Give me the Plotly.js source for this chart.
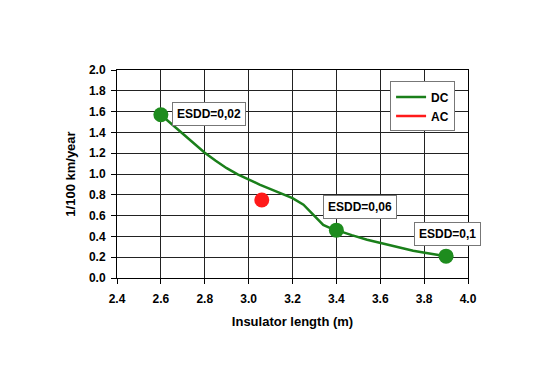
<!DOCTYPE html>
<html><head><meta charset="utf-8">
<script src="https://cdn.plot.ly/plotly-3.0.1.min.js"></script>
<style>html,body{margin:0;padding:0;background:#fff}#chart{width:538px;height:380px}</style>
</head><body><div id="chart"></div>
<script>
// DC curve (insulator length in m, flashovers per 100 km/year)
const dcX = [2.6, 2.65, 2.7, 2.75, 2.8, 2.85, 2.9, 2.95, 3.0, 3.05, 3.1, 3.15, 3.2, 3.25, 3.295, 3.34, 3.37, 3.4, 3.47, 3.54, 3.62, 3.69, 3.75, 3.81, 3.9];
const dcY = [1.57, 1.478, 1.39, 1.296, 1.205, 1.128, 1.056, 0.997, 0.945, 0.898, 0.854, 0.811, 0.768, 0.705, 0.607, 0.51, 0.482, 0.46, 0.412, 0.368, 0.325, 0.288, 0.262, 0.24, 0.21];
// DC marked points with ESDD labels
const dcMarkX = [2.6, 3.4, 3.9];
const dcMarkY = [1.57, 0.46, 0.21];
const esddLabels = ["ESDD=0,02", "ESDD=0,06", "ESDD=0,1"];
const labelX = [2.82, 3.506, 3.907];
const labelY = [1.58, 0.68, 0.423];
// AC point
const acX = [3.06];
const acY = [0.75];
const xTicks = [2.4, 2.6, 2.8, 3.0, 3.2, 3.4, 3.6, 3.8, 4.0];
const yTicks = [0.0, 0.2, 0.4, 0.6, 0.8, 1.0, 1.2, 1.4, 1.6, 1.8, 2.0];

const green = '#1a7f1a', red = '#ff1a1a';
const traces = [
  {x: dcX, y: dcY, mode: 'lines', name: 'DC', line: {color: green, width: 2.5}},
  {x: [null], y: [null], mode: 'lines', name: 'AC', line: {color: red, width: 2.5}},
  {x: acX, y: acY, mode: 'markers', showlegend: false, marker: {color: red, size: 15}},
  {x: dcMarkX, y: dcMarkY, mode: 'markers', showlegend: false, marker: {color: '#1e8c1e', size: 15}}
];
const annotations = esddLabels.map((t, i) => ({
  x: labelX[i], y: labelY[i], xref: 'x', yref: 'y', text: t, showarrow: false,
  font: {family: 'Liberation Sans, Arial', size: 12, color: '#000', weight: 'bold'},
  bgcolor: '#fff', bordercolor: '#777', borderwidth: 1, borderpad: 4
}));
const tickFmt = v => v.toFixed(1);
const layout = {
  width: 538, height: 380,
  margin: {l: 117, r: 70, t: 70, b: 102},
  paper_bgcolor: '#fff', plot_bgcolor: '#fff',
  font: {family: 'Liberation Sans, Arial', color: '#000'},
  showlegend: true,
  legend: {x: 0.778, y: 0.945, xanchor: 'left', yanchor: 'top', bgcolor: '#fff', bordercolor: '#777', borderwidth: 1,
    font: {size: 12, weight: 'bold'}, itemwidth: 30, tracegroupgap: 0},
  xaxis: {range: [2.4, 4.0], tickvals: xTicks, ticktext: xTicks.map(tickFmt), showgrid: true, gridcolor: '#222', gridwidth: 1,
    zeroline: false, showline: true, linecolor: '#000', linewidth: 1, mirror: true, ticks: 'outside', ticklen: 5, tickcolor: '#000',
    tickfont: {size: 12, weight: 'bold'}, ticklabelstandoff: 5,
    title: {text: 'Insulator length (m)', font: {size: 13, weight: 'bold'}, standoff: 11}},
  yaxis: {range: [0, 2.0], tickvals: yTicks, ticktext: yTicks.map(tickFmt), showgrid: true, gridcolor: '#222', gridwidth: 1,
    zeroline: false, showline: true, linecolor: '#000', linewidth: 1, mirror: true, ticks: 'outside', ticklen: 5, tickcolor: '#000',
    tickfont: {size: 12, weight: 'bold'}, ticklabelstandoff: 3,
    title: {text: '1/100 km/year', font: {size: 13, weight: 'bold'}, standoff: 10}},
  annotations: annotations
};
Plotly.newPlot('chart', traces, layout, {displayModeBar: false, staticPlot: true});
</script></body></html>
